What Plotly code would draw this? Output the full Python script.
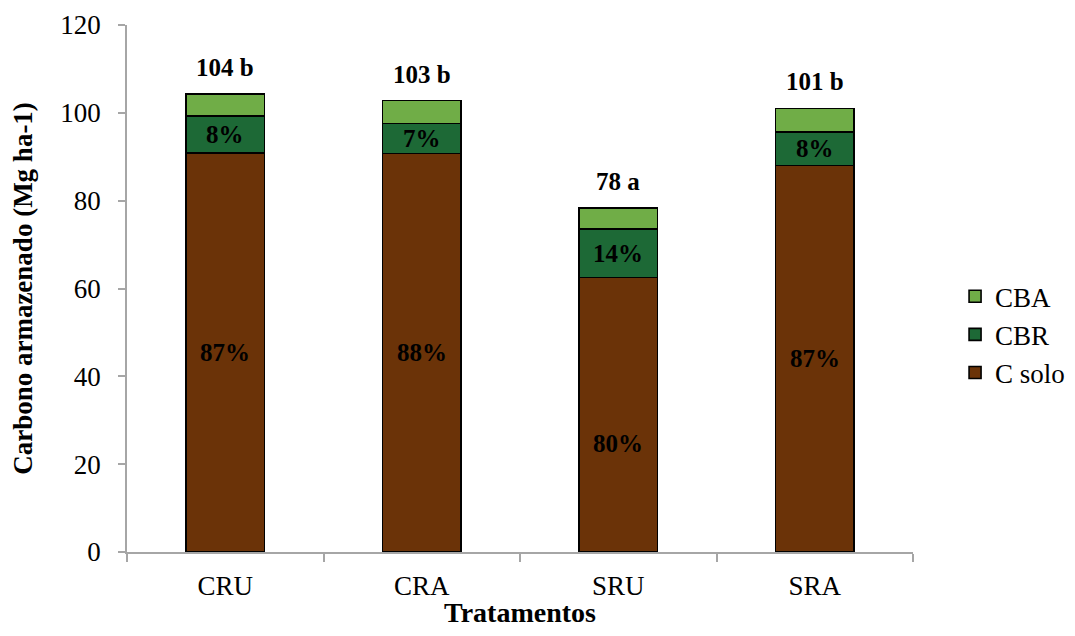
import plotly.graph_objects as go

categories = ["CRU", "CRA", "SRU", "SRA"]
c_solo = [90.8, 90.7, 62.5, 88.0]
cbr = [8.5, 6.9, 11.1, 7.6]
cba = [5.0, 5.2, 4.7, 5.4]
solo_pct = ["87%", "88%", "80%", "87%"]
cbr_pct = ["8%", "7%", "14%", "8%"]
total_labels = ["104 b", "103 b", "78 a", "101 b"]
solo_label_shift = [0, 0, -29, 0]

FONT = "Liberation Serif, Times New Roman, serif"
colors = {"C solo": "#6B3308", "CBR": "#1D6936", "CBA": "#70AD47"}

fig = go.Figure()
for name, vals, grp in [("C solo", c_solo, "g1"), ("CBR", cbr, "g2"), ("CBA", cba, "g3")]:
    fig.add_trace(go.Bar(
        x=categories, y=vals, name=name, legendgroup=grp,
        marker=dict(color=colors[name], line=dict(color="black", width=1.6)),
        width=0.4,
    ))

for i, cat in enumerate(categories):
    fig.add_annotation(x=cat, y=c_solo[i] / 2, text=f"<b>{solo_pct[i]}</b>",
                       showarrow=False, yshift=solo_label_shift[i],
                       font=dict(family=FONT, size=25, color="black"))
    fig.add_annotation(x=cat, y=c_solo[i] + cbr[i] / 2, text=f"<b>{cbr_pct[i]}</b>",
                       showarrow=False,
                       font=dict(family=FONT, size=25, color="black"))
    total = c_solo[i] + cbr[i] + cba[i]
    fig.add_annotation(x=cat, y=total, text=f"<b>{total_labels[i]}</b>",
                       showarrow=False, yanchor="bottom", yshift=11,
                       font=dict(family=FONT, size=25, color="black"))

W, H = 1059, 620
fig.update_layout(
    barmode="stack",
    width=W, height=H,
    margin=dict(l=119, r=W - 905, t=17, b=H - 544, autoexpand=False),
    plot_bgcolor="white", paper_bgcolor="white",
    font=dict(family=FONT, size=27, color="black"),
    showlegend=True,
    legend=dict(traceorder="reversed", xref="container", yref="container",
                x=0.8943, xanchor="left", y=0.473, yanchor="middle",
                font=dict(family=FONT, size=27, color="black"), tracegroupgap=37,
                bgcolor="rgba(0,0,0,0)", itemwidth=30),
    xaxis=dict(
        title=dict(text="<b>Tratamentos</b>", font=dict(family=FONT, size=28), standoff=12),
        showline=True, linecolor="#A6A6A6", linewidth=1.5, automargin=False,
        ticks="outside", tickson="boundaries", ticklen=8, tickcolor="#A6A6A6", tickwidth=1.5,
        tickfont=dict(family=FONT, size=27), showgrid=False, ticklabelstandoff=9,
    ),
    yaxis=dict(
        title=dict(text="<b>Carbono armazenado (Mg ha-1)</b>", font=dict(family=FONT, size=27), standoff=22),
        range=[0, 120], dtick=20, automargin=False,
        showline=True, linecolor="#A6A6A6", linewidth=1.5,
        ticks="outside", ticklen=7, tickcolor="#A6A6A6", tickwidth=1.5,
        tickfont=dict(family=FONT, size=27), showgrid=False, zeroline=False,
        ticklabelstandoff=12,
    ),
)

fig.write_html("out.html")
